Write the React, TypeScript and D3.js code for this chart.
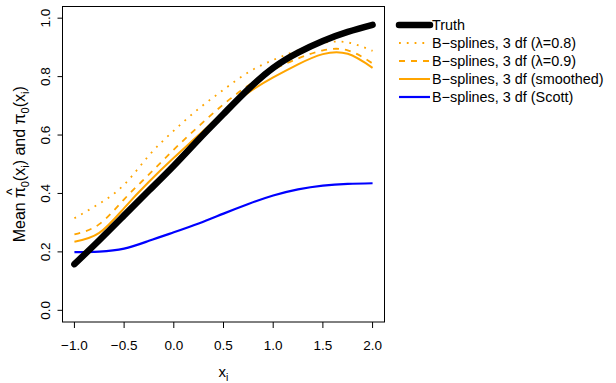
import React from "react";
import * as d3 from "d3";

// grid of x values the curves were read at
const xGrid = [-1, -0.75, -0.5, -0.25, 0, 0.25, 0.5, 0.75, 1, 1.25, 1.5, 1.75, 2];

const truth = [0.158, 0.24, 0.325, 0.41, 0.495, 0.585, 0.672, 0.757, 0.83, 0.882, 0.922, 0.953, 0.977];
const bsLambda08 = [0.315, 0.365, 0.43, 0.53, 0.615, 0.69, 0.755, 0.815, 0.857, 0.89, 0.915, 0.917, 0.888];
const bsLambda09 = [0.26, 0.295, 0.38, 0.465, 0.55, 0.63, 0.705, 0.77, 0.823, 0.862, 0.89, 0.89, 0.845];
const bsSmoothed = [0.235, 0.265, 0.35, 0.44, 0.522, 0.6, 0.677, 0.745, 0.797, 0.842, 0.877, 0.878, 0.83];
const bsScott = [0.199, 0.201, 0.211, 0.238, 0.267, 0.297, 0.331, 0.364, 0.393, 0.414, 0.427, 0.433, 0.435];

const xTicks = [-1, -0.5, 0, 0.5, 1, 1.5, 2];
const yTicks = [0, 0.2, 0.4, 0.6, 0.8, 1];

const orange = "#FFA500";
const blue = "#0000FF";
const font = "'Liberation Sans', Arial, Helvetica, sans-serif";

const series = [
    { name: "truth", label: "Truth", values: truth, color: "#000", width: 6.5, dash: null, cap: "round" },
    { name: "l08", label: "λ=0.8", values: bsLambda08, color: orange, width: 1.8, dash: "1.8,6", cap: "butt" },
    { name: "l09", label: "λ=0.9", values: bsLambda09, color: orange, width: 1.8, dash: "6,6", cap: "butt" },
    { name: "smooth", label: "smoothed", values: bsSmoothed, color: orange, width: 2, dash: null, cap: "butt" },
    { name: "scott", label: "Scott", values: bsScott, color: blue, width: 2.2, dash: null, cap: "butt" },
];

export default function App() {
    const width = 616;
    const height = 383;
    const left = 62.5;
    const right = 384.5;
    const top = 6.5;
    const bottom = 322;

    const x = d3.scaleLinear([-1.12, 2.12], [left, right]);
    const y = d3.scaleLinear([-0.04, 1.04], [bottom, top]);
    const fmt = d3.format(".1f");

    const line = d3
        .line<number>()
        .curve(d3.curveNatural)
        .x((_, i) => x(xGrid[i]))
        .y((d) => y(d));

    // truth is drawn last so it sits on top, like in the original plot
    const drawOrder = [...series.slice(1), series[0]];

    return (
        <svg
            width={width}
            height={height}
            style={{ position: "absolute", top: 0, left: 0, background: "#fff" }}
            fontFamily={font}
        >
            <rect x={0} y={0} width={width} height={height} fill="#fff" />

            <g>
                {drawOrder.map((s) => (
                    <path
                        key={s.name}
                        d={line(s.values) || ""}
                        fill="none"
                        stroke={s.color}
                        strokeWidth={s.width}
                        strokeDasharray={s.dash || undefined}
                        strokeLinecap={s.cap as any}
                    />
                ))}
            </g>

            {/* box */}
            <rect x={left} y={top} width={right - left} height={bottom - top} fill="none" stroke="#000" strokeWidth={1} />

            {/* x axis */}
            <g fontSize={13.5} textAnchor="middle">
                {xTicks.map((t) => (
                    <g key={t}>
                        <line x1={x(t)} x2={x(t)} y1={bottom} y2={bottom + 6} stroke="#000" />
                        <text x={x(t)} y={bottom + 28}>{fmt(t)}</text>
                    </g>
                ))}
            </g>

            {/* y axis */}
            <g fontSize={13.5} textAnchor="middle">
                {yTicks.map((t) => (
                    <g key={t}>
                        <line x1={left} x2={left - 5} y1={y(t)} y2={y(t)} stroke="#000" />
                        <text transform={`translate(${left - 13},${y(t)}) rotate(-90)`}>{fmt(t)}</text>
                    </g>
                ))}
            </g>

            <text x={(left + right) / 2} y={377} fontSize={15} textAnchor="middle">
                x<tspan fontSize={10.5} dy={4}>i</tspan>
            </text>

            {/* y title, hat placed by hand over the first pi */}
            <text
                transform={`translate(25,${(top + bottom) / 2}) rotate(-90)`}
                fontSize={16}
                textAnchor="middle"
            >
                Mean π
                <tspan dx={-8.2} dy={-8.5} fontSize={14}>^</tspan>
                <tspan fontSize={11} dx={1.2} dy={12.5}>0</tspan>
                <tspan dy={-4}>(x</tspan>
                <tspan fontSize={11} dy={4}>i</tspan>
                <tspan dy={-4}>) and π</tspan>
                <tspan fontSize={11} dy={4}>0</tspan>
                <tspan dy={-4}>(x</tspan>
                <tspan fontSize={11} dy={4}>i</tspan>
                <tspan dy={-4}>)</tspan>
            </text>

            {/* legend */}
            <g fontSize={14.4}>
                {series.map((s, i) => {
                    const ly = 25 + i * 18;
                    const text = i === 0 ? s.label : `B−splines, 3 df (${s.label})`;
                    return (
                        <g key={s.name}>
                            <line
                                x1={399}
                                x2={430}
                                y1={ly}
                                y2={ly}
                                stroke={s.color}
                                strokeWidth={s.width}
                                strokeDasharray={s.dash || undefined}
                                strokeLinecap={s.cap as any}
                            />
                            <text x={432} y={ly + 5}>{text}</text>
                        </g>
                    );
                })}
            </g>
        </svg>
    );
}
